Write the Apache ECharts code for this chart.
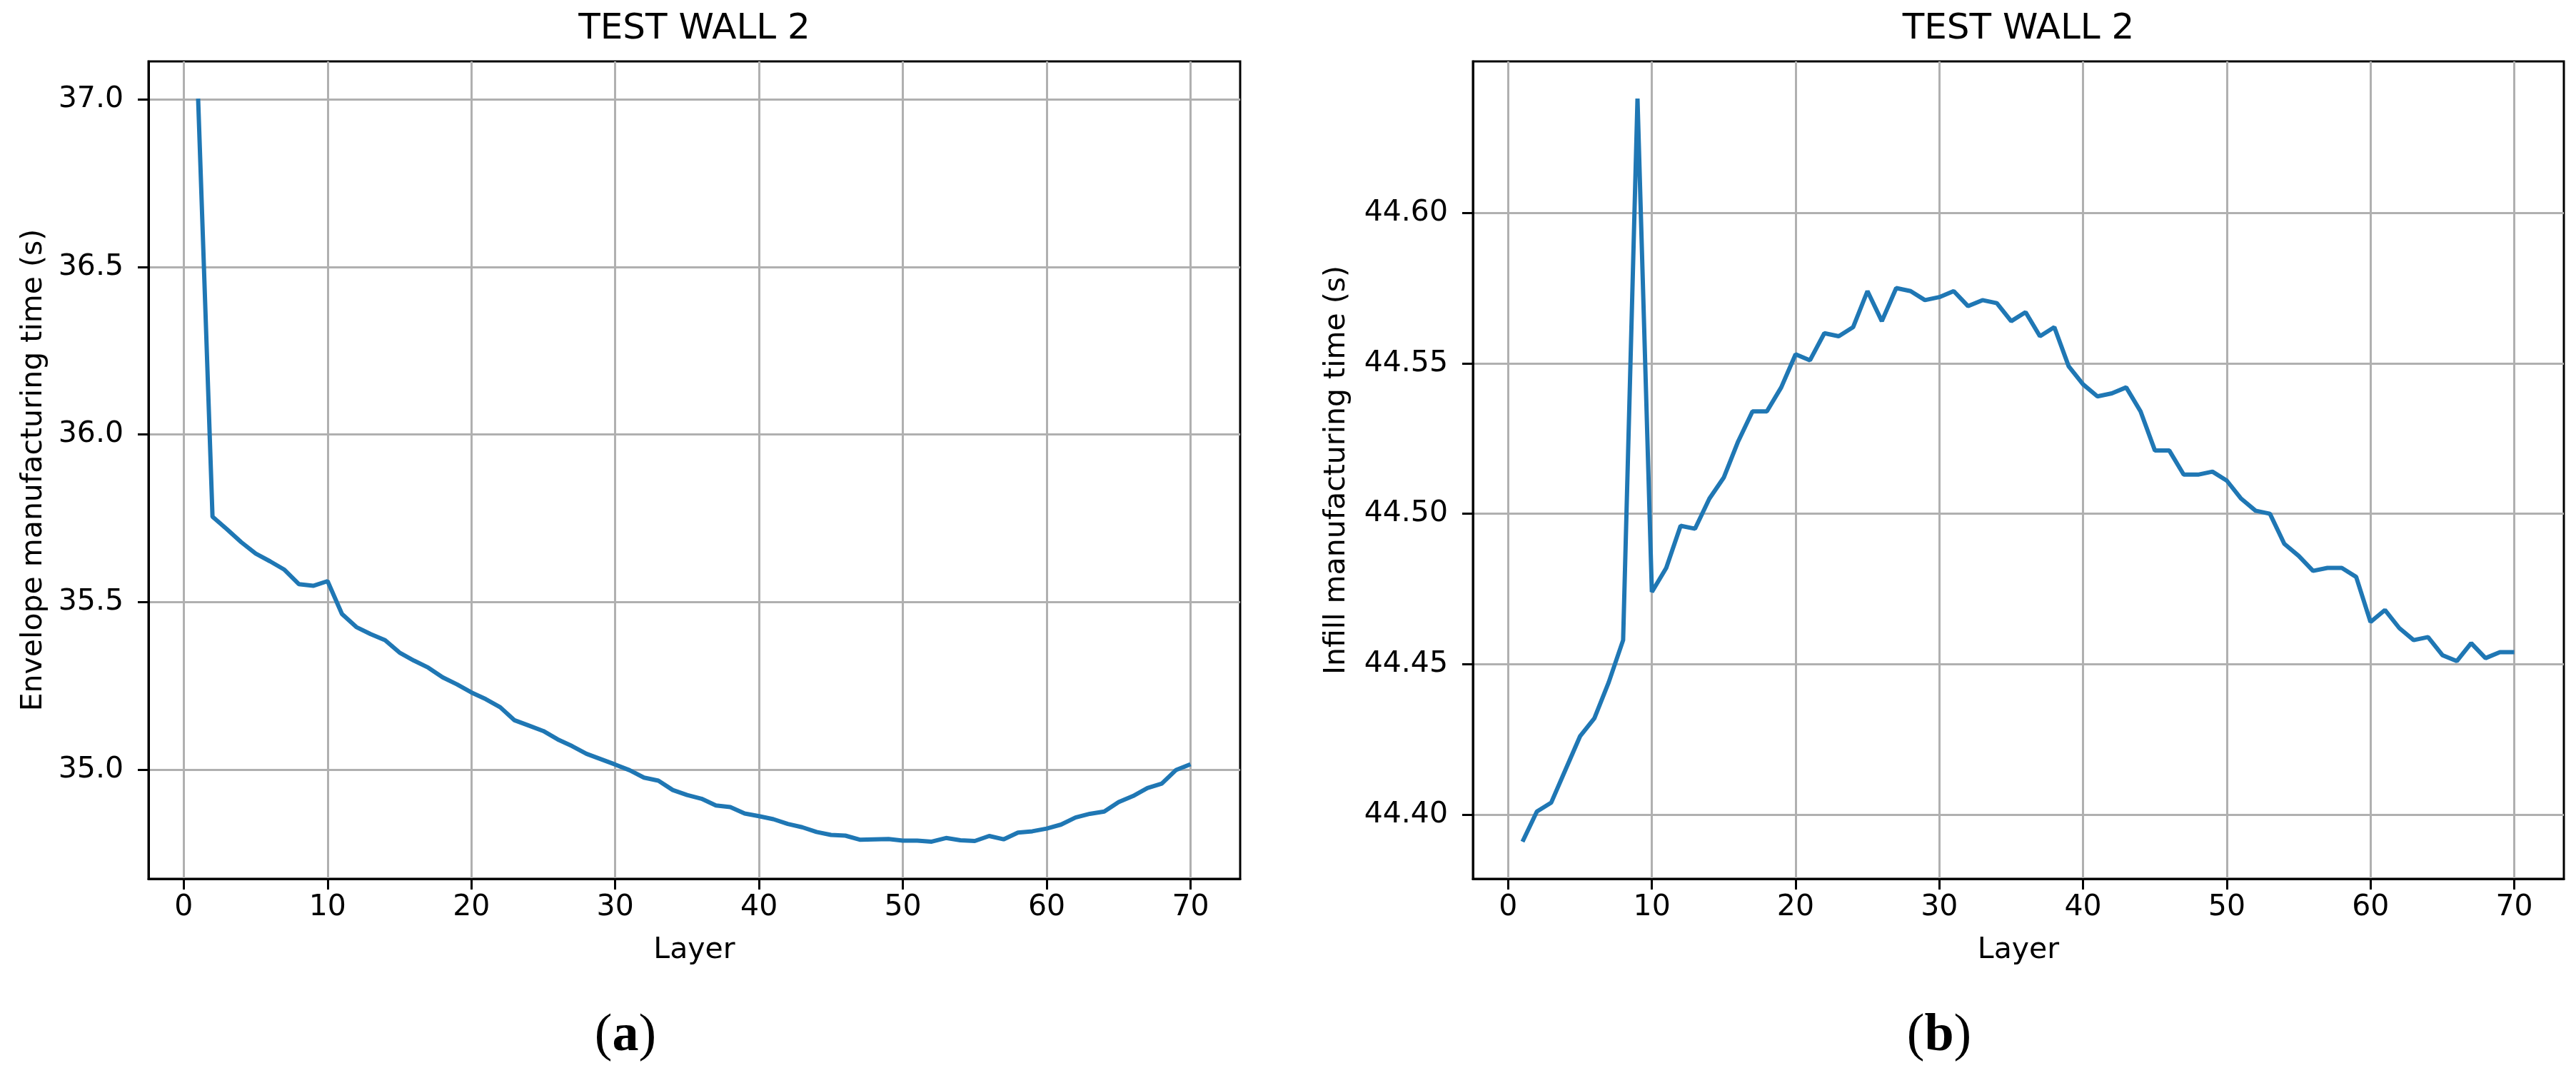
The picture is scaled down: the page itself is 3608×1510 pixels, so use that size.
<!DOCTYPE html>
<html>
<head>
<meta charset="utf-8">
<script src="https://cdn.jsdelivr.net/npm/echarts@6/dist/echarts.min.js"></script>
<style>
  html, body { margin: 0; padding: 0; background: #fff; }
  #chart { width: 3608px; height: 1510px; }
</style>
</head>
<body>
<div id="chart"></div>
<script>
const layers = [
  1, 2, 3, 4, 5, 6, 7, 8, 9, 10, 11, 12, 13, 14, 15, 16, 17, 18, 19, 20,
  21, 22, 23, 24, 25, 26, 27, 28, 29, 30, 31, 32, 33, 34, 35, 36, 37, 38, 39, 40,
  41, 42, 43, 44, 45, 46, 47, 48, 49, 50, 51, 52, 53, 54, 55, 56, 57, 58, 59, 60,
  61, 62, 63, 64, 65, 66, 67, 68, 69, 70
]
// (a) envelope manufacturing time per layer, seconds
const envelopeTime = [
  37.002, 35.755, 35.718, 35.679, 35.645, 35.622, 35.597, 35.554, 35.549, 35.563,
  35.465, 35.426, 35.405, 35.387, 35.350, 35.326, 35.305, 35.276, 35.255, 35.231,
  35.211, 35.187, 35.148, 35.132, 35.116, 35.091, 35.071, 35.048, 35.032, 35.016,
  34.999, 34.977, 34.968, 34.940, 34.925, 34.914, 34.894, 34.889, 34.870, 34.862,
  34.853, 34.839, 34.829, 34.815, 34.806, 34.804, 34.792, 34.793, 34.794, 34.789,
  34.789, 34.786, 34.797, 34.790, 34.788, 34.803, 34.793, 34.813, 34.817, 34.825,
  34.837, 34.858, 34.869, 34.876, 34.904, 34.922, 34.946, 34.959, 35.000, 35.017
]
// (b) infill manufacturing time per layer, seconds
const infillTime = [
  44.391, 44.401, 44.404, 44.415, 44.426, 44.432, 44.444, 44.458, 44.638, 44.474,
  44.482, 44.496, 44.495, 44.505, 44.512, 44.524, 44.534, 44.534, 44.542, 44.553,
  44.551, 44.560, 44.559, 44.562, 44.574, 44.564, 44.575, 44.574, 44.571, 44.572,
  44.574, 44.569, 44.571, 44.570, 44.564, 44.567, 44.559, 44.562, 44.549, 44.543,
  44.539, 44.540, 44.542, 44.534, 44.521, 44.521, 44.513, 44.513, 44.514, 44.511,
  44.505, 44.501, 44.500, 44.490, 44.486, 44.481, 44.482, 44.482, 44.479, 44.464,
  44.468, 44.462, 44.458, 44.459, 44.453, 44.451, 44.457, 44.452, 44.454, 44.454
]
const layerTicks = [0, 10, 20, 30, 40, 50, 60, 70]
const envelopeTicks = [35.0, 35.5, 36.0, 36.5, 37.0]
const infillTicks = [44.40, 44.45, 44.50, 44.55, 44.60]
const panelTitles = ['TEST WALL 2', 'TEST WALL 2']
const yNames = ['Envelope manufacturing time (s)', 'Infill manufacturing time (s)']
const captions = ['a', 'b']

const FONT = 'DejaVu Sans'
const BLUE = '#1f77b4'
const grids = [
  { left: 208, top: 86, width: 1529, height: 1145 },
  { left: 2063, top: 86, width: 1528, height: 1145 }
]

// matplotlib-like autoscale: 5% margin on each side
function paddedRange(values) {
  const lo = Math.min(...values)
  const hi = Math.max(...values)
  const pad = (hi - lo) * 0.05
  return { min: lo - pad, max: hi + pad }
}

function pairs(ys) {
  return layers.map((x, i) => [x, ys[i]])
}

const textStyle = { fontFamily: FONT, fontSize: 41, color: '#000' }

function xAxisFor(gridIndex) {
  const r = paddedRange(layers)
  return {
    type: 'value',
    gridIndex: gridIndex,
    min: r.min,
    max: r.max,
    name: 'Layer',
    nameLocation: 'middle',
    nameGap: 80,
    nameTextStyle: textStyle,
    axisLine: { show: true, onZero: false, lineStyle: { color: '#000', width: 3 } },
    axisTick: { show: true, length: 15, customValues: layerTicks, lineStyle: { color: '#000', width: 3 } },
    axisLabel: Object.assign({ customValues: layerTicks, margin: 20 }, textStyle),
    splitLine: { show: true, lineStyle: { color: '#b0b0b0', width: 3 } }
  }
}

function yAxisFor(gridIndex, values, ticks, digits, gap) {
  const r = paddedRange(values)
  return {
    type: 'value',
    gridIndex: gridIndex,
    min: r.min,
    max: r.max,
    name: yNames[gridIndex],
    nameLocation: 'middle',
    nameGap: gap,
    nameTextStyle: textStyle,
    axisLine: { show: true, onZero: false, lineStyle: { color: '#000', width: 3 } },
    axisTick: { show: true, length: 15, customValues: ticks, lineStyle: { color: '#000', width: 3 } },
    axisLabel: Object.assign({
      customValues: ticks,
      margin: 35,
      formatter: v => v.toFixed(digits)
    }, textStyle),
    splitLine: { show: true, lineStyle: { color: '#b0b0b0', width: 3 } }
  }
}

const graphics = []
grids.forEach((g, i) => {
  graphics.push({
    type: 'text',
    x: g.left + g.width / 2,
    y: 41,
    style: {
      text: panelTitles[i],
      align: 'center',
      verticalAlign: 'middle',
      font: '50px "DejaVu Sans"',
      fill: '#000'
    }
  })
})
const captionCenters = [876, 2716]
captionCenters.forEach((cx, i) => {
  graphics.push({
    type: 'text',
    x: cx,
    y: 1452,
    style: {
      text: '{p|(}{b|' + captions[i] + '}{p|)}',
      align: 'center',
      verticalAlign: 'middle',
      rich: {
        p: { fontFamily: 'Liberation Serif', fontSize: 74, fill: '#000' },
        b: { fontFamily: 'Liberation Serif', fontSize: 74, fontWeight: 'bold', fill: '#000' }
      }
    }
  })
})

const chart = echarts.init(document.getElementById('chart'))
chart.setOption({
  animation: false,
  backgroundColor: '#fff',
  grid: grids.map(g => Object.assign({
    show: true,
    borderColor: '#000',
    borderWidth: 3,
    backgroundColor: 'transparent'
  }, g)),
  xAxis: [xAxisFor(0), xAxisFor(1)],
  yAxis: [
    yAxisFor(0, envelopeTime, envelopeTicks, 1, 140),
    yAxisFor(1, infillTime, infillTicks, 2, 170)
  ],
  series: [
    {
      type: 'line',
      xAxisIndex: 0,
      yAxisIndex: 0,
      data: pairs(envelopeTime),
      showSymbol: false,
      lineStyle: { color: BLUE, width: 6 }
    },
    {
      type: 'line',
      xAxisIndex: 1,
      yAxisIndex: 1,
      data: pairs(infillTime),
      showSymbol: false,
      lineStyle: { color: BLUE, width: 6 }
    }
  ],
  graphic: graphics
})
</script>
</body>
</html>
